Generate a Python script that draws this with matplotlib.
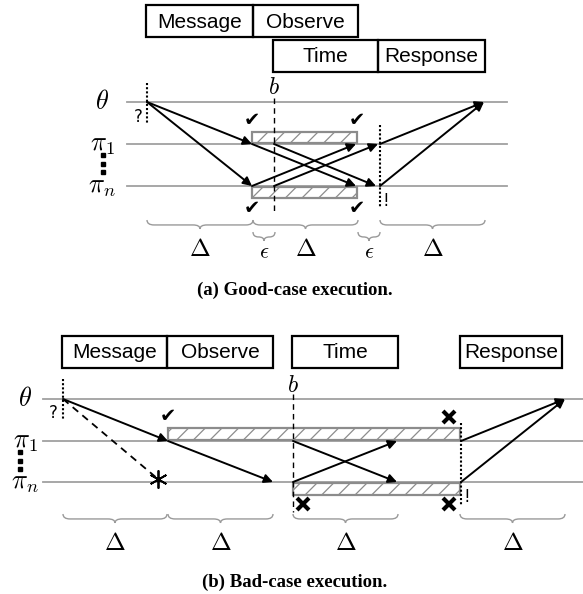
import matplotlib
matplotlib.use('Agg')
import matplotlib.pyplot as plt
from matplotlib.patches import Rectangle, PathPatch
from matplotlib.path import Path

plt.rcParams['mathtext.fontset'] = 'cm'
plt.rcParams['hatch.color'] = '#9a9a9a'
plt.rcParams['hatch.linewidth'] = 0.9

# ---- diagram data (pixel coordinates of the events) ----
lane_labels = [r'$\theta$', r'$\pi_1$', r'$\pi_n$']

# panel (a) good case
a_lanes = [102, 144, 186]
a_lane_x = (127, 507)
a_top_boxes = [('Message', 146, 253, 5), ('Observe', 253, 358, 5),
               ('Time', 273, 378, 40), ('Response', 378, 485, 40)]
a_arrows = [((147, 102), (252, 144)), ((147, 102), (252, 186)),
            ((252, 144), (356, 186)), ((274, 144), (376, 186)),
            ((252, 186), (356, 144)), ((274, 186), (378, 144)),
            ((380, 144), (484, 102)), ((380, 186), (484, 102))]
a_hatch = [(252, 357, 132, 143), (252, 357, 187, 198)]
a_checks = [(252, 120), (357, 120), (252, 208), (357, 208)]
a_braces = [(147, 253, 220, r'$\Delta$'), (253, 358, 220, r'$\Delta$'),
            (380, 485, 220, r'$\Delta$'),
            (253, 275, 232, r'$\epsilon$'), (358, 380, 232, r'$\epsilon$')]

# panel (b) bad case
b_lanes = [399, 441, 482]
b_lane_x = (43, 583)
b_top_boxes = [('Message', 62, 167, 336), ('Observe', 167, 273, 336),
               ('Time', 292, 398, 336), ('Response', 460, 562, 336)]
b_arrows = [((63, 399), (168, 441)), ((168, 441), (273, 482)),
            ((293, 441), (397, 482)), ((293, 482), (397, 441)),
            ((461, 441), (565, 399)), ((461, 482), (565, 399))]
b_hatch = [(168, 460, 428, 440), (293, 460, 483, 495)]
b_checks = [(168, 417)]
b_crosses = [(449, 417), (303, 504), (449, 504)]
b_braces = [(63, 167, 514, r'$\Delta$'), (168, 273, 514, r'$\Delta$'),
            (293, 398, 514, r'$\Delta$'), (460, 565, 514, r'$\Delta$')]

fig = plt.figure(figsize=(5.83, 5.94), dpi=100)
ax = fig.add_axes([0, 0, 1, 1])
ax.set_xlim(0, 583)
ax.set_ylim(594, 0)
ax.axis('off')


def arrow(p0, p1, head=True, ls='-'):
    ax.annotate('', xy=p1, xytext=p0,
                arrowprops=dict(arrowstyle='-|>' if head else '-', color='black',
                                lw=1.4, mutation_scale=13, shrinkA=0, shrinkB=0,
                                linestyle=ls))


def brace(x0, x1, y0, h=9, tip=4):
    xm = (x0 + x1) / 2
    q = min(7, (x1 - x0) / 4)
    yh = y0 + h * 0.55
    verts = [(x0, y0), (x0, yh), (x0 + q, yh),
             (xm - q, yh),
             (xm, yh), (xm, yh + tip),
             (xm, yh), (xm + q, yh),
             (x1 - q, yh),
             (x1, yh), (x1, y0)]
    codes = [Path.MOVETO, Path.CURVE3, Path.CURVE3,
             Path.LINETO,
             Path.CURVE3, Path.CURVE3,
             Path.CURVE3, Path.CURVE3,
             Path.LINETO,
             Path.CURVE3, Path.CURVE3]
    ax.add_patch(PathPatch(Path(verts, codes), fill=False, edgecolor='#9a9a9a', lw=1.0))


def panel(lanes, lane_x, boxes, arrows, hatch, checks, braces, label_x, dots_x):
    for y, lab in zip(lanes, lane_labels):
        ax.plot(lane_x, [y, y], color='#a0a0a0', lw=1.3, zorder=1)
        ax.text(label_x, y, lab, fontsize=19, ha='center', va='center')
    ax.plot([dots_x] * 3, [lanes[1] + 11, lanes[1] + 20, lanes[1] + 28], 's',
            color='black', markersize=3.4)
    for txt, x0, x1, y0 in boxes:
        ax.add_patch(Rectangle((x0, y0), x1 - x0, 32, fill=False, edgecolor='black', lw=1.6))
        ax.text((x0 + x1) / 2, y0 + 17, txt, fontsize=15, family='Liberation Sans',
                ha='center', va='center')
    for x0, x1, y0, y1 in hatch:
        ax.add_patch(Rectangle((x0, y0), x1 - x0, y1 - y0, facecolor='white',
                               edgecolor='#8c8c8c', hatch='//', lw=1.6, zorder=2))
    for p0, p1 in arrows:
        arrow(p0, p1)
    for x, y in checks:
        ax.text(x, y, '\u2714', fontsize=14, ha='center', va='center', family='DejaVu Sans')
    for x0, x1, y0, lab in braces:
        brace(x0, x1, y0)
        if 'Delta' in lab:
            ax.text((x0 + x1) / 2, y0 + 29, lab, fontsize=18, ha='center', va='center')
        else:
            ax.text((x0 + x1) / 2, y0 + 20, lab, fontsize=16, ha='center', va='center')


# panel (a)
panel(a_lanes, a_lane_x, a_top_boxes, a_arrows, a_hatch, a_checks, a_braces, 102, 103)
ax.plot([147, 147], [83, 123], color='black', lw=1.5, ls=(0, (1, 1)))
ax.text(138, 117, '?', fontsize=12, ha='center', va='center', family='DejaVu Sans')
ax.plot([274, 274], [98, 212], color='black', lw=1.0, ls=(0, (4, 3)))
ax.text(274, 87, r'$b$', fontsize=17, ha='center', va='center')
ax.plot([380, 380], [125, 208], color='black', lw=1.5, ls=(0, (1, 1)))
ax.text(386, 201, '!', fontsize=12, ha='center', va='center', family='DejaVu Sans')
ax.text(295, 290, '(a) Good-case execution.', fontsize=13.5, fontweight='bold',
        family='Liberation Serif', ha='center', va='center')

# panel (b)
panel(b_lanes, b_lane_x, b_top_boxes, b_arrows, b_hatch, b_checks, b_braces, 25, 20)
ax.plot([63, 63], [379, 419], color='black', lw=1.5, ls=(0, (1, 1)))
ax.text(53, 413, '?', fontsize=12, ha='center', va='center', family='DejaVu Sans')
ax.plot([63, 158], [399, 479], color='black', lw=1.3, ls=(0, (4, 3)))
ax.plot([158], [479], marker=(6, 2, 0), color='black', markersize=13, mew=1.3)
ax.plot([293, 293], [394, 512], color='black', lw=1.0, ls=(0, (4, 3)))
ax.text(293, 385, r'$b$', fontsize=17, ha='center', va='center')
ax.plot([461, 461], [423, 506], color='black', lw=1.5, ls=(0, (1, 1)))
ax.text(467, 497, '!', fontsize=12, ha='center', va='center', family='DejaVu Sans')
for x, y in b_crosses:
    ax.plot([x], [y], marker='x', color='black', markersize=9, mew=3)
ax.text(295, 582, '(b) Bad-case execution.', fontsize=13.5, fontweight='bold',
        family='Liberation Serif', ha='center', va='center')

fig.savefig('out.png', dpi=100)
